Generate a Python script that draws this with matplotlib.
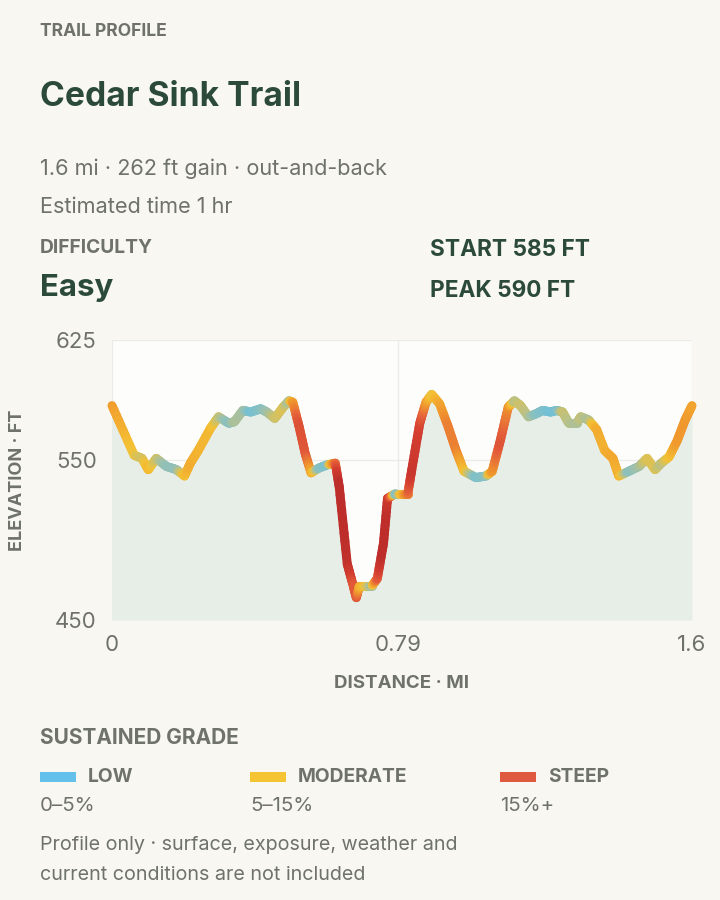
import numpy as np
import matplotlib
matplotlib.use("Agg")
import matplotlib.pyplot as plt
from matplotlib.collections import LineCollection
from matplotlib.colors import LinearSegmentedColormap

plt.rcParams['font.family'] = ['Inter', 'DejaVu Sans']

# elevation profile (miles, feet)
dist_mi = [0.0, 0.061, 0.083, 0.100, 0.122, 0.150, 0.178, 0.200, 0.216, 0.238,
           0.272, 0.294, 0.322, 0.338, 0.361, 0.383, 0.410, 0.427, 0.449, 0.472,
           0.488, 0.499, 0.516, 0.533, 0.549, 0.571, 0.594, 0.616, 0.627, 0.649,
           0.666, 0.674, 0.682, 0.716, 0.732, 0.749, 0.760, 0.782, 0.816, 0.827,
           0.849, 0.866, 0.882, 0.904, 0.927, 0.949, 0.971, 1.004, 1.032, 1.049,
           1.071, 1.093, 1.110, 1.127, 1.149, 1.171, 1.188, 1.210, 1.227, 1.243,
           1.260, 1.282, 1.293, 1.315, 1.337, 1.359, 1.382, 1.398, 1.426, 1.454,
           1.476, 1.498, 1.515, 1.537, 1.559, 1.581, 1.600]
elev_ft = [584, 553, 551, 544, 551, 546, 544, 540, 548, 556,
           570, 577, 573, 574, 581, 580, 582, 580, 576, 583,
           587, 586, 571, 554, 542, 545, 547, 548, 533, 485,
           471, 464, 471, 471, 476, 498, 526, 529, 529, 544,
           573, 586, 591, 585, 571, 556, 543, 539, 540, 543,
           562, 583, 587, 584, 577, 579, 581, 580, 581, 580,
           573, 573, 577, 575, 569, 556, 551, 540, 543, 546,
           551, 544, 548, 552, 562, 575, 584]

x_ticks = [0, 0.79, 1.6]
x_tick_labels = ['0', '0.79', '1.6']
y_ticks = [450, 550, 625]

legend_names = ['LOW', 'MODERATE', 'STEEP']
legend_ranges = ['0–5%', '5–15%', '15%+']
legend_colors = ['#62c0ea', '#f5c433', '#df5840']

BG = '#f8f7f2'
DARK = '#2c4a3a'
GRAY = '#6e726b'

fig = plt.figure(figsize=(7.2, 9), dpi=100, facecolor=BG)


def px(x, y):
    return x / 720, 1 - y / 900


fig.text(*px(40, 31), 'TRAIL PROFILE', fontsize=12.6, fontweight='bold', color=GRAY, va='center')
fig.text(*px(40, 97), 'Cedar Sink Trail', fontsize=24.2, fontweight='bold', color=DARK, va='center')
fig.text(*px(40, 169), '1.6 mi · 262 ft gain · out-and-back', fontsize=15.6, color=GRAY, va='center')
fig.text(*px(40, 207), 'Estimated time 1 hr', fontsize=15.6, color=GRAY, va='center')
fig.text(*px(40, 248), 'DIFFICULTY', fontsize=13.8, fontweight='bold', color=GRAY, va='center')
fig.text(*px(40, 288), 'Easy', fontsize=22.5, fontweight='bold', color=DARK, va='center')
fig.text(*px(430, 250), 'START 585 FT', fontsize=16.3, fontweight='bold', color=DARK, va='center')
fig.text(*px(430, 291), 'PEAK 590 FT', fontsize=16.3, fontweight='bold', color=DARK, va='center')

ax = fig.add_axes([112 / 720, 1 - 620 / 900, 580 / 720, 280 / 900])
ax.set_facecolor('#fdfdfb')
ax.set_xlim(0, 1.6)
ax.set_ylim(450, 625)
for s in ax.spines.values():
    s.set_visible(False)
ax.set_xticks(x_ticks, x_tick_labels)
ax.set_yticks(y_ticks)
ax.tick_params(length=0, labelsize=16, labelcolor=GRAY)
ax.tick_params(axis='y', pad=11)
ax.tick_params(axis='x', pad=11)
ax.grid(True, color='#ebebe7', lw=1)
ax.set_axisbelow(True)

x = np.array(dist_mi)
y = np.array(elev_ft)
ax.fill_between(x, y, 450, color='#e6eee7', lw=0, zorder=1)

# grade in percent per segment, then per vertex
seg_grade = np.abs(np.diff(y)) / (np.diff(x) * 5280) * 100
vert_grade = np.empty(len(x))
vert_grade[0] = seg_grade[0]
vert_grade[-1] = seg_grade[-1]
vert_grade[1:-1] = (seg_grade[:-1] + seg_grade[1:]) / 2

gmax = 30.0
cmap = LinearSegmentedColormap.from_list('grade', [
    (0.0, '#5ec0ea'), (3 / gmax, '#a0c0aa'), (6 / gmax, '#f4c233'),
    (10 / gmax, '#f0982e'), (15 / gmax, '#e4603a'), (21 / gmax, '#d33d30'),
    (1.0, '#bd2e2b')])

segs, cols = [], []
n = 10
for i in range(len(x) - 1):
    t = np.linspace(0, 1, n + 1)
    xs = x[i] + (x[i + 1] - x[i]) * t
    ys = y[i] + (y[i + 1] - y[i]) * t
    gs = vert_grade[i] + (vert_grade[i + 1] - vert_grade[i]) * t
    for k in range(n):
        segs.append([(xs[k], ys[k]), (xs[k + 1], ys[k + 1])])
        cols.append(cmap(min((gs[k] + gs[k + 1]) / 2 / gmax, 1.0)))
lc = LineCollection(segs, colors=cols, linewidths=6.5, capstyle='round', zorder=3)
lc.set_clip_on(False)
ax.add_collection(lc)

fig.text(*px(18, 480), 'ELEVATION · FT', fontsize=13, fontweight='bold', color=GRAY,
         rotation=90, ha='center', va='center')
fig.text(*px(402, 684), 'DISTANCE · MI', fontsize=13.5, fontweight='bold', color=GRAY,
         ha='center', va='center')

fig.text(*px(40, 738), 'SUSTAINED GRADE', fontsize=15, fontweight='bold', color=GRAY, va='center')
for i, (name, rng, c) in enumerate(zip(legend_names, legend_ranges, legend_colors)):
    x0 = [40, 250, 500][i]
    fig.patches.append(plt.Rectangle(px(x0, 782), 36 / 720, 10 / 900, transform=fig.transFigure,
                                     color=c, lw=0))
    fig.text(*px(x0 + 48, 777), name, fontsize=13.8, fontweight='bold', color=GRAY, va='center')
    fig.text(*px(x0, 806), rng, fontsize=14.8, color=GRAY, va='center')

fig.text(*px(40, 845), 'Profile only · surface, exposure, weather and', fontsize=14.2, color=GRAY, va='center')
fig.text(*px(40, 875), 'current conditions are not included', fontsize=14.2, color=GRAY, va='center')

fig.savefig('out.png', dpi=100, facecolor=BG)
